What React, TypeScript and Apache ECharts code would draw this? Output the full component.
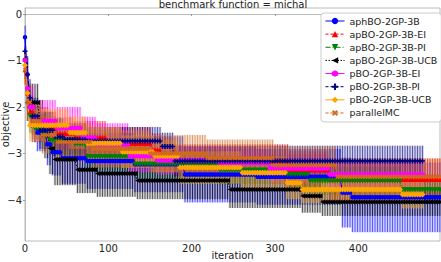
import React, { useEffect, useRef } from 'react';
import * as echarts from 'echarts';

// step between recorded iterations (batch of 3)
const STEP = 3;

const seriesNames = [
  'aphBO-2GP-3B',
  'apBO-2GP-3B-EI',
  'apBO-2GP-3B-PI',
  'apBO-2GP-3B-UCB',
  'pBO-2GP-3B-EI',
  'pBO-2GP-3B-PI',
  'pBO-2GP-3B-UCB',
  'parallelMC',
];

// [iteration where the level starts, mean objective, std]
const aphBO: number[][] = [
  [0, -0.5, 0.25], [3, -1.3, 0.35], [6, -2.0, 0.35], [9, -2.4, 0.35], [15, -2.55, 0.4],
  [27, -2.8, 0.45], [33, -2.97, 0.5], [45, -3.1, 0.55], [75, -3.16, 0.6], [132, -3.23, 0.6],
  [192, -3.45, 0.6], [279, -3.5, 0.6], [381, -3.84, 0.75], [393, -3.94, 0.75],
];
const apBO_EI: number[][] = [
  [0, -1.2, 0.3], [3, -1.7, 0.35], [6, -2.1, 0.35], [12, -2.35, 0.35], [30, -2.45, 0.35],
  [39, -2.57, 0.35], [60, -2.65, 0.35], [99, -2.78, 0.35], [153, -2.92, 0.35], [165, -3.03, 0.35],
  [180, -3.15, 0.35], [318, -3.35, 0.4], [366, -3.56, 0.45],
];
const apBO_PI: number[][] = [
  [0, -1.0, 0.3], [3, -1.7, 0.35], [6, -2.2, 0.35], [12, -2.46, 0.3], [21, -2.6, 0.3],
  [30, -2.72, 0.3], [60, -2.8, 0.3], [75, -3.07, 0.3], [132, -3.23, 0.3], [234, -3.36, 0.3],
  [315, -3.45, 0.3], [342, -3.59, 0.3], [453, -3.78, 0.3],
];
const apBO_UCB: number[][] = [
  [0, -1.1, 0.3], [3, -1.9, 0.4], [18, -2.3, 0.45], [24, -2.6, 0.5], [30, -2.89, 0.55],
  [36, -3.13, 0.55], [63, -3.35, 0.5], [87, -3.43, 0.5], [135, -3.58, 0.4], [246, -3.77, 0.4],
  [333, -3.91, 0.36], [357, -4.04, 0.3],
];
const pBO_EI: number[][] = [
  [0, -1.0, 0.3], [3, -1.6, 0.4], [6, -2.0, 0.45], [12, -2.3, 0.45], [39, -2.45, 0.45],
  [69, -2.66, 0.45], [87, -2.8, 0.45], [126, -3.05, 0.35], [159, -3.15, 0.3], [234, -3.2, 0.3],
  [294, -3.32, 0.3], [366, -3.45, 0.3],
];
const pBO_PI: number[][] = [
  [0, -0.8, 0.3], [3, -1.3, 0.4], [6, -1.8, 0.4], [9, -2.2, 0.4], [18, -2.5, 0.4],
  [36, -2.64, 0.4], [48, -2.7, 0.35], [75, -2.73, 0.3], [165, -2.85, 0.3], [180, -3.16, 0.33],
];
const pBO_UCB: number[][] = [
  [0, -1.1, 0.3], [3, -1.7, 0.35], [6, -2.39, 0.35], [54, -2.55, 0.35], [75, -2.78, 0.35],
  [117, -2.96, 0.35], [156, -3.05, 0.35], [186, -3.3, 0.35], [261, -3.41, 0.35], [315, -3.63, 0.35],
  [333, -3.77, 0.3], [453, -3.88, 0.3],
];
const parallelMC: number[][] = [
  [0, -1.2, 0.35], [3, -1.9, 0.4], [9, -2.3, 0.4], [21, -2.6, 0.4], [39, -2.75, 0.4],
  [81, -2.9, 0.4], [150, -3.0, 0.4], [219, -3.1, 0.4], [300, -3.25, 0.4], [375, -3.5, 0.4],
];

const levelTables = [aphBO, apBO_EI, apBO_PI, apBO_UCB, pBO_EI, pBO_PI, pBO_UCB, parallelMC];
const lastIteration = [498, 498, 498, 498, 477, 477, 477, 498];

const xTicks = [0, 100, 200, 300, 400];
const yTicks = [0, -1, -2, -3, -4];

const colors = ['#0000ff', '#ff0000', '#008000', '#000000', '#ff00ff', '#000080', '#ffa500', '#d2691e'];
const lineTypes: any[] = ['solid', [3, 2], [5, 2, 1, 2], [1.5, 1.5], 'solid', [3, 2], 'solid', [3, 2]];
const PLUS = 'path://M-3,-10 L3,-10 L3,-3 L10,-3 L10,3 L3,3 L3,10 L-3,10 L-3,3 L-10,3 L-10,-3 L-3,-3 Z';
const HEX = 'path://M0,-10 L8.66,-5 L8.66,5 L0,10 L-8.66,5 L-8.66,-5 Z';
const LEFT_TRI = 'path://M-10,0 L10,-10 L10,10 Z';
const DOWN_TRI = 'path://M-10,-9 L10,-9 L0,9 Z';
const symbols = ['circle', 'triangle', DOWN_TRI, LEFT_TRI, HEX, PLUS, 'diamond', PLUS];
const symbolRotates = [0, 0, 0, 0, 0, 0, 0, 45];
const symbolSizes = [4.5, 5, 5, 5, 5, 5, 6, 5];

function holdLevels(levels: number[][], last: number) {
  const out: number[][] = [];
  let k = 0;
  for (let t = 0; t <= last; t += STEP) {
    while (k + 1 < levels.length && levels[k + 1][0] <= t) k++;
    out.push([t, levels[k][1], levels[k][2]]);
  }
  return out;
}

const fmt = (v: number) => (v < 0 ? '\u2212' + Math.abs(v) : String(v));

export default function App() {
  const ref = useRef<HTMLDivElement>(null);
  useEffect(() => {
    if (!ref.current) return;
    const chart = echarts.init(ref.current, undefined, { renderer: 'svg' });
    const series: any[] = [];
    const X_MAX = 498;
    levelTables.forEach((lv, i) => {
      const pts = holdLevels(lv, lastIteration[i]);
      const color = colors[i];
      const bandData = pts.map((p) => [p[0], p[1] - p[2], p[1] + p[2]]);
      series.push({
        name: seriesNames[i] + ' band',
        type: 'custom',
        z: 1,
        silent: true,
        data: bandData,
        encode: { x: 0, y: [1, 2] },
        renderItem: (params: any, api: any) => {
          const x = api.value(0);
          const lo = api.value(1);
          const hi = api.value(2);
          const a = api.coord([x, hi]);
          const b = api.coord([x, lo]);
          const bar = {
            type: 'line',
            shape: { x1: a[0], y1: a[1], x2: b[0], y2: b[1] },
            style: { stroke: color, lineWidth: 1, opacity: 0.55 },
          };
          if (params.dataIndex !== 0) return bar;
          const upper: number[][] = [];
          const lower: number[][] = [];
          bandData.forEach((d) => {
            const x0 = Math.max(0, d[0] - STEP / 2);
            const x1 = Math.min(X_MAX, d[0] + STEP / 2);
            upper.push(api.coord([x0, d[2]]), api.coord([x1, d[2]]));
            lower.push(api.coord([x0, d[1]]), api.coord([x1, d[1]]));
          });
          const poly = {
            type: 'polygon',
            shape: { points: upper.concat(lower.reverse()) },
            style: { fill: color, opacity: 0.2 },
          };
          return { type: 'group', children: [poly, bar] };
        },
      });
    });
    levelTables.forEach((lv, i) => {
      const pts = holdLevels(lv, lastIteration[i]);
      series.push({
        name: seriesNames[i],
        type: 'line',
        z: 3,
        data: pts.map((p) => [p[0], p[1]]),
        symbol: symbols[i],
        symbolSize: symbolSizes[i],
        symbolRotate: symbolRotates[i],
        showSymbol: true,
        itemStyle: { color: colors[i] },
        lineStyle: { color: colors[i], width: 1, type: lineTypes[i] },
      });
    });

    chart.setOption({
      animation: false,
      textStyle: { fontFamily: 'DejaVu Sans' },
      title: {
        text: 'benchmark function = michal',
        left: 233,
        top: 0,
        padding: 0,
        textAlign: 'center',
        textStyle: { fontSize: 10, fontWeight: 'normal', color: '#222', fontFamily: 'DejaVu Sans', lineHeight: 9 },
      },
      grid: {
        left: 25, right: 1, top: 8, bottom: 21,
        show: true, borderColor: '#bbbbbb', borderWidth: 1,
        outerBoundsMode: 'none', containLabel: false,
      },
      legend: {
        data: seriesNames,
        orient: 'vertical',
        left: 321,
        top: 13,
        padding: [2, 4, 3, 4],
        itemGap: 1.14,
        itemWidth: 19,
        itemHeight: 8,
        backgroundColor: '#ffffff',
        borderColor: '#cccccc',
        borderWidth: 1,
        borderRadius: 3,
        lineStyle: { width: 1 },
        textStyle: { fontSize: 9.5, lineHeight: 12, color: '#222', fontFamily: 'DejaVu Sans' },
      },
      xAxis: {
        type: 'value',
        min: 0,
        max: X_MAX,
        interval: 100,
        name: 'iteration',
        nameLocation: 'middle',
        nameGap: 9,
        nameMoveOverlap: false,
        nameTextStyle: { fontSize: 10, color: '#222', lineHeight: 10 },
        axisLine: { lineStyle: { color: '#bbbbbb' } },
        axisTick: { show: true, length: 2, lineStyle: { color: '#999' }, customValues: xTicks },
        axisLabel: { fontSize: 10, color: '#222', margin: 2, customValues: xTicks },
        splitLine: { show: false },
      },
      yAxis: {
        type: 'value',
        min: -4.88,
        max: 0.13,
        name: 'objective',
        nameLocation: 'middle',
        nameGap: 15,
        nameMoveOverlap: false,
        nameTextStyle: { fontSize: 10, color: '#222', lineHeight: 10 },
        axisLine: { show: true, lineStyle: { color: '#bbbbbb' } },
        axisTick: { show: true, length: 2, lineStyle: { color: '#999' }, customValues: yTicks },
        axisLabel: {
          fontSize: 10,
          color: '#222',
          margin: 3,
          customValues: yTicks,
          formatter: (v: number) => fmt(v),
        },
        splitLine: { show: false },
      },
      series,
    });
    return () => chart.dispose();
  }, []);
  return (
    <div
      ref={ref}
      style={{ position: 'fixed', left: 0, top: 0, width: 441, height: 262, background: '#fff' }}
    />
  );
}
